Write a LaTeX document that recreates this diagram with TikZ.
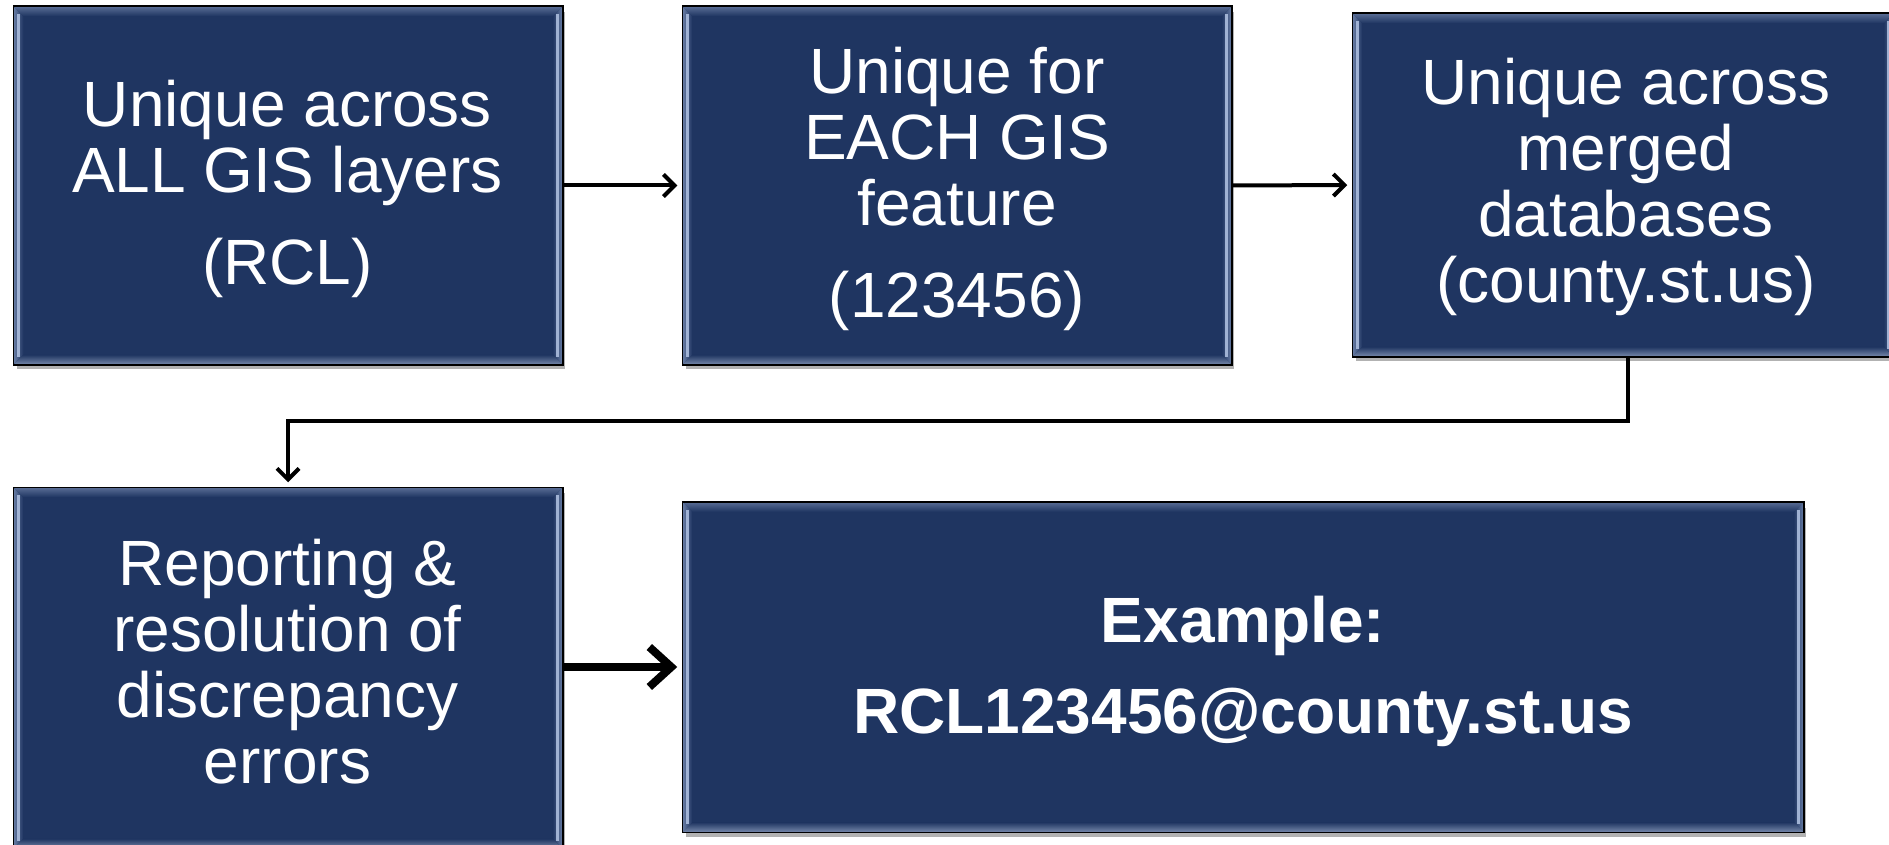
\documentclass[tikz,border=0pt]{standalone}
\usepackage{fontspec}
\setmainfont{Liberation Sans}
\usetikzlibrary{calc,arrows.meta,shadows}
\definecolor{navy}{RGB}{31,53,97}
\definecolor{bevout}{RGB}{105,126,166}
\definecolor{bevbright}{RGB}{178,195,226}
\definecolor{bevtop}{RGB}{90,110,150}
\definecolor{bevbot}{RGB}{120,138,172}
\tikzset{
  box/.style={rectangle, draw=black, line width=1.5pt, fill=navy, inner sep=0pt,
    drop shadow={shadow xshift=3pt, shadow yshift=-5pt, opacity=0.3, fill=black}},
  txt/.style={text=white, align=center, inner sep=0pt, font=\fontsize{64}{66}\selectfont},
  btxt/.style={txt, font=\fontsize{64}{66}\selectfont\bfseries},
  thinarrow/.style={draw=black, line width=4pt, shorten >=5pt,
    -{Straight Barb[length=11pt,width=22pt]}},
  thickarrow/.style={draw=black, line width=8pt, shorten >=5pt,
    -{Straight Barb[length=22pt,width=40pt]}},
}
\newcommand\bevelbox[1]{%
  \coordinate (#1A) at (#1.north west);
  \coordinate (#1B) at (#1.north east);
  \coordinate (#1C) at (#1.south east);
  \coordinate (#1D) at (#1.south west);
  \coordinate (#1a) at ($(#1A)+(10,10)$);
  \coordinate (#1b) at ($(#1B)+(-10,10)$);
  \coordinate (#1c) at ($(#1C)+(-10,-10)$);
  \coordinate (#1d) at ($(#1D)+(10,-10)$);
  \shade[left color=bevout, right color=navy] (#1A) -- (#1a) -- (#1d) -- (#1D) -- cycle;
  \shade[left color=navy, right color=bevout] (#1B) -- (#1b) -- (#1c) -- (#1C) -- cycle;
  \shade[top color=bevtop, bottom color=navy] (#1A) -- (#1B) -- (#1b) -- (#1a) -- cycle;
  \shade[top color=navy, bottom color=bevbot] (#1D) -- (#1C) -- (#1c) -- (#1d) -- cycle;
  \draw[bevbright, line width=3pt, opacity=0.85] ($(#1A)+(5,8)$) -- ($(#1D)+(5,-8)$);
  \draw[bevbright, line width=3pt, opacity=0.85] ($(#1B)+(-5,8)$) -- ($(#1C)+(-5,-8)$);
  \draw[black, line width=1.5pt] (#1A) rectangle (#1C);
}
\begin{document}
\begin{tikzpicture}[x=1pt, y=-1pt]
\useasboundingbox (0,0) rectangle (1889,845);
% boxes
\node[box, minimum width=548pt, minimum height=357pt] (b1) at (288,185.5) {};
\node[box, minimum width=548pt, minimum height=357pt] (b2) at (957,185.5) {};
\node[box, minimum width=540pt, minimum height=342pt] (b3) at (1623,185) {};
\node[box, minimum width=548pt, minimum height=360pt] (b4) at (288,668) {};
\node[box, minimum width=1120pt, minimum height=329pt] (b5) at (1243,667) {};
\bevelbox{b1}
\bevelbox{b2}
\bevelbox{b3}
\bevelbox{b4}
\bevelbox{b5}
% texts
\node[txt] (t1) at (287.5,189) {Unique across\\ALL GIS layers\\[26pt](RCL)};
\node[txt] (t2) at (957,188.5) {Unique for\\EACH GIS\\feature\\[26pt](123456)};
\node[txt] (t3) at (1626,186.5) {Unique across\\merged\\databases\\(county.st.us)};
\node[txt] (t4) at (287.5,662) {Reporting \&\\resolution of\\discrepancy\\errors};
\node[btxt] (t5) at (1243,671) {Example:\\[25pt]RCL123456@county.st.us};
% connectors
\draw[thinarrow] (b1.east) -- (b2.west);
\draw[thinarrow] (b2.east) -- (b3.west);
\draw[thinarrow] (b3.south) ++(5,0) -- ++(0,64) -| (b4.north);
\draw[thickarrow] (b4.east |- b5.west) -- (b5.west);
\end{tikzpicture}
\end{document}
